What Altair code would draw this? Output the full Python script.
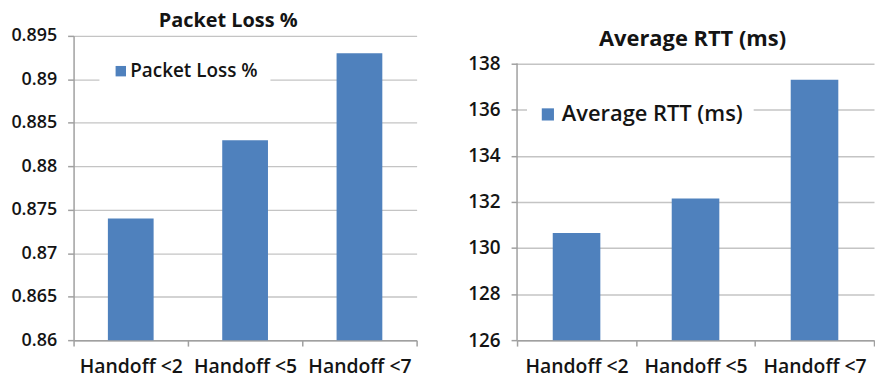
import altair as alt
import pandas as pd

categories = ["Handoff <2", "Handoff <5", "Handoff <7"]
packet_loss = [0.874, 0.883, 0.893]
avg_rtt = [130.65, 132.15, 137.3]
pl_ticks = [0.86, 0.865, 0.87, 0.875, 0.88, 0.885, 0.89, 0.895]
rtt_ticks = [126, 128, 130, 132, 134, 136, 138]
rtt_top = 139.2  # headroom so the RTT plot starts lower than the packet-loss plot

BLUE = "#4F81BD"
FONT = "Open Sans"
TEXT = "#141414"
AXIS_GRAY = "#a0a0a0"
GRID_GRAY = "#c4c4c4"

df1 = pd.DataFrame({"cat": categories, "val": packet_loss, "series": "Packet Loss %"})
df2 = pd.DataFrame({"cat": categories, "val": avg_rtt, "series": "Average RTT (ms)"})
axis_df = pd.DataFrame({"lo": [rtt_ticks[0]], "hi": [rtt_ticks[-1]]})


def bars(df, ticks, fmt, top, show_domain, ylab_size, leg):
    x = alt.X(
        "cat:N", sort=categories, title=None,
        scale=alt.Scale(paddingInner=0, paddingOuter=0),
        axis=alt.Axis(labelAngle=0, tickBand="extent", labelFontSize=19.5, labelFont=FONT,
                      labelFontWeight=600, labelColor=TEXT, domainColor=AXIS_GRAY,
                      tickColor=AXIS_GRAY, tickSize=6, labelPadding=12, labelOverlap=False,
                      labelLimit=300, domainWidth=1.5, tickWidth=1.5),
    )
    y = alt.Y(
        "val:Q", title=None,
        scale=alt.Scale(domain=[ticks[0], top], zero=False, nice=False),
        axis=alt.Axis(values=ticks, format=fmt, grid=True, gridColor=GRID_GRAY, gridWidth=1.5,
                      labelFontSize=ylab_size, labelFont=FONT, labelFontWeight=600,
                      labelColor=TEXT, domain=show_domain, domainColor=AXIS_GRAY,
                      tickColor=AXIS_GRAY, tickSize=6, domainWidth=1.5, tickWidth=1.5,
                      labelPadding=11),
    )
    base = dict(title=None, orient="none", fillColor="white", symbolType="square",
                labelFont=FONT, labelFontWeight=600, labelColor=TEXT, labelLimit=400,
                symbolStrokeWidth=0, symbolOpacity=1)
    base.update(leg)
    color = alt.Color("series:N", scale=alt.Scale(range=[BLUE]), legend=alt.Legend(**base))
    return alt.Chart(df).mark_bar(width={"band": 0.4}, clip=True).encode(x=x, y=y, color=color)


left = bars(
    df1, pl_ticks, ".3~f", pl_ticks[-1], True, 18,
    dict(legendX=26, legendY=14, padding=12, symbolSize=110, labelFontSize=19, labelOffset=0),
).properties(
    width=345, height=306,
    title=alt.TitleParams("Packet Loss %", fontSize=20, font=FONT, fontWeight="bold",
                          color=TEXT, offset=6, anchor="middle", dy=10, dx=-17),
)

rtt_bars = bars(
    df2, rtt_ticks, "d", rtt_top, False, 19,
    dict(legendX=10, legendY=58, padding=10, symbolSize=150, labelFontSize=22, labelOffset=3),
)
rtt_axis_line = alt.Chart(axis_df).mark_rule(color=AXIS_GRAY, strokeWidth=1.5).encode(
    x=alt.value(0), y=alt.Y("lo:Q"), y2="hi:Q"
)
right = alt.layer(rtt_bars, rtt_axis_line).properties(
    width=359, height=306,
    title=alt.TitleParams("Average RTT (ms)", fontSize=22, font=FONT, fontWeight="bold",
                          color=TEXT, offset=6, anchor="middle", dy=21, dx=-3),
)

chart = (
    alt.hconcat(left, right, spacing=50)
    .resolve_scale(color="independent")
    .properties(padding={"left": 10, "top": 10, "right": 0, "bottom": 0})
    .configure_view(stroke=None)
)

chart.save("out.html", embed_options={"renderer": "svg", "actions": False})
